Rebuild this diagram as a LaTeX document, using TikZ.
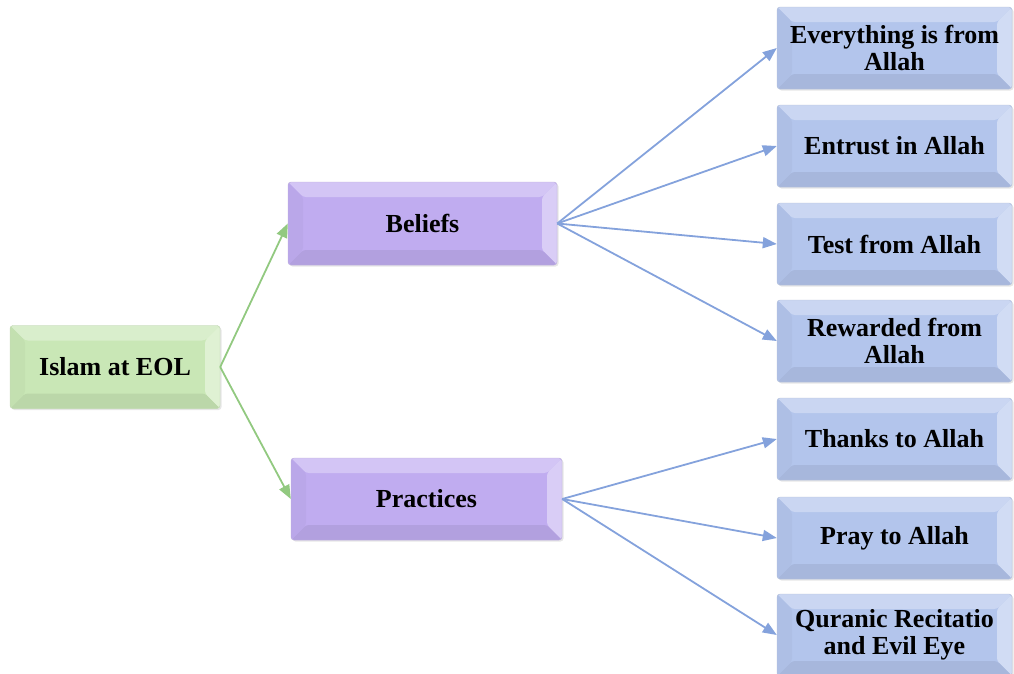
\documentclass[tikz,border=0pt]{standalone}
\usepackage{fontspec}
\setmainfont{Liberation Serif}
\usetikzlibrary{arrows.meta,shadows}
\definecolor{gbase}{HTML}{C9E7B6}
\definecolor{pbase}{HTML}{C0ACF0}
\definecolor{bbase}{HTML}{B3C5EC}
\definecolor{garrow}{HTML}{92C980}
\definecolor{barrow}{HTML}{84A2DC}
\def\ppb{path picture bounding box}
\tikzset{
  bevelbox/.style={
    draw=#1!85!black!70, line width=0.4pt, fill=#1, rounded corners=3pt,
    minimum height=82pt, align=center, inner sep=3pt,
    font=\bfseries\fontsize{26}{27.5}\selectfont,
    drop shadow={shadow xshift=1.5pt, shadow yshift=-1.5pt, opacity=0.2, fill=gray},
    path picture={
      \fill[#1!70!white] (\ppb.north west) -- (\ppb.north east) -- ([shift={(-15pt,-15pt)}]\ppb.north east) -- ([shift={(15pt,-15pt)}]\ppb.north west) -- cycle;
      \fill[#1!60!white] (\ppb.north east) -- (\ppb.south east) -- ([shift={(-15pt,15pt)}]\ppb.south east) -- ([shift={(-15pt,-15pt)}]\ppb.north east) -- cycle;
      \fill[#1!93!black] (\ppb.south east) -- (\ppb.south west) -- ([shift={(15pt,15pt)}]\ppb.south west) -- ([shift={(-15pt,15pt)}]\ppb.south east) -- cycle;
      \fill[#1!97!black] (\ppb.south west) -- (\ppb.north west) -- ([shift={(15pt,-15pt)}]\ppb.north west) -- ([shift={(15pt,15pt)}]\ppb.south west) -- cycle;
    }},
  gbox/.style={bevelbox=gbase},
  pbox/.style={bevelbox=pbase},
  bbox/.style={bevelbox=bbase, minimum width=235pt},
  conn/.style={line width=1.8pt, -{Triangle[length=14pt,width=11pt]}},
  gconn/.style={conn, draw=garrow, fill=garrow},
  bconn/.style={conn, draw=barrow, fill=barrow}
}
\begin{document}
\begin{tikzpicture}[x=1pt,y=-1pt]
\useasboundingbox (0,0) rectangle (1014,673);
\node[gbox, minimum width=210pt, minimum height=83pt] (isl) at (115,367) {Islam at EOL};
\node[pbox, minimum width=269pt, minimum height=83pt] (bel) at (422.5,223.5) {Beliefs};
\node[pbox, minimum width=271pt] (pra) at (426.5,499) {Practices};
\node[bbox] (b1) at (894.5,48) {Everything is from\\Allah};
\node[bbox] (b2) at (894.5,146) {Entrust in Allah};
\node[bbox] (b3) at (894.5,244) {Test from Allah};
\node[bbox] (b4) at (894.5,341) {Rewarded from\\Allah};
\node[bbox] (b5) at (894.5,439) {Thanks to Allah};
\node[bbox] (b6) at (894.5,538) {Pray to Allah};
\node[bbox] (b7) at (894.5,635) {Quranic Recitatio\\and Evil Eye};
\draw[gconn] (isl.east) -- (bel.west);
\draw[gconn] (isl.east) -- (pra.west);
\foreach \t in {b1,b2,b3,b4} \draw[bconn] (bel.east) -- (\t.west);
\foreach \t in {b5,b6,b7} \draw[bconn] (pra.east) -- (\t.west);
\end{tikzpicture}
\end{document}
